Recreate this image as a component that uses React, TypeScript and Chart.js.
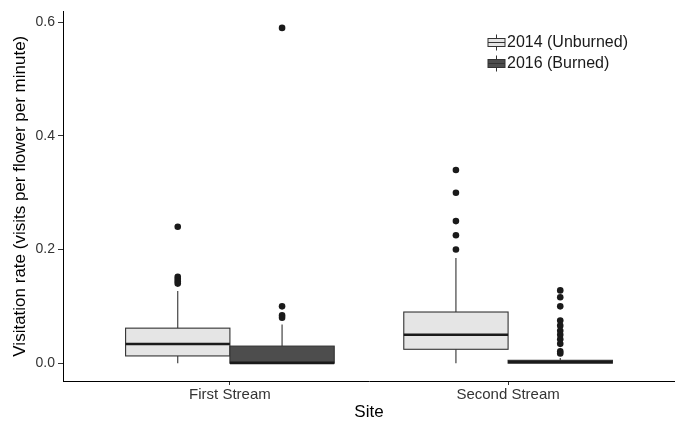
import React, { useEffect, useRef } from 'react';
import { Chart, registerables } from 'chart.js';

Chart.register(...registerables);

const categories = ['First Stream', 'Second Stream'];
const seriesNames = ['2014 (Unburned)', '2016 (Burned)'];
// per category: [lower whisker, q1, median, q3, upper whisker]
const unburnedBoxes = [
  [0, 0.0127, 0.0337, 0.0616, 0.127],
  [0, 0.0244, 0.05, 0.09, 0.185],
];
const burnedBoxes = [
  [0, 0, 0.0005, 0.03, 0.068],
  [0, 0, 0.002, 0.005, 0.009],
];
const unburnedOutliersFirst = [0.24, 0.152, 0.148, 0.144, 0.14];
const unburnedOutliersSecond = [0.34, 0.3, 0.25, 0.225, 0.2];
const burnedOutliersFirst = [0.59, 0.1, 0.084, 0.08];
const burnedOutliersSecond = [0.128, 0.116, 0.1, 0.075, 0.066, 0.057, 0.05, 0.042, 0.034, 0.021, 0.017];
const yTicks = [0, 0.2, 0.4, 0.6];

const fills = ['#e5e5e5', '#4d4d4d'];
const DODGE = 0.1875;
const HALF = 0.1875;
const FONT = "'Liberation Sans', Arial, sans-serif";

const boxPlugin = {
  id: 'boxes',
  beforeDatasetsDraw(chart: any) {
    const { ctx, scales } = chart;
    const xs = scales.x;
    const ys = scales.y;
    const groups = [unburnedBoxes, burnedBoxes];
    groups.forEach((boxes, s) => {
      boxes.forEach((b, i) => {
        const c = i + 1 + (s === 0 ? -DODGE : DODGE);
        const xl = xs.getPixelForValue(c - HALF);
        const xr = xs.getPixelForValue(c + HALF);
        const xc = xs.getPixelForValue(c);
        const [lo, q1, med, q3, hi] = b.map((v: number) => ys.getPixelForValue(v));
        ctx.save();
        ctx.strokeStyle = '#333333';
        ctx.lineWidth = 1.1;
        ctx.beginPath();
        ctx.moveTo(xc, q3);
        ctx.lineTo(xc, hi);
        ctx.moveTo(xc, q1);
        ctx.lineTo(xc, lo);
        ctx.stroke();
        ctx.fillStyle = fills[s];
        ctx.fillRect(xl, q3, xr - xl, q1 - q3);
        ctx.strokeRect(xl, q3, xr - xl, q1 - q3);
        ctx.strokeStyle = '#1a1a1a';
        ctx.lineWidth = 2.6;
        ctx.beginPath();
        ctx.moveTo(xl, med);
        ctx.lineTo(xr, med);
        ctx.stroke();
        ctx.restore();
      });
    });
  },
  afterDraw(chart: any) {
    const { ctx } = chart;
    const gx = 488;
    const rows = [42.5, 63.5];
    rows.forEach((cy, s) => {
      ctx.save();
      ctx.strokeStyle = '#333333';
      ctx.lineWidth = 1;
      ctx.beginPath();
      ctx.moveTo(gx + 8.5, cy - 8);
      ctx.lineTo(gx + 8.5, cy - 4);
      ctx.moveTo(gx + 8.5, cy + 4);
      ctx.lineTo(gx + 8.5, cy + 8);
      ctx.stroke();
      ctx.fillStyle = fills[s];
      ctx.fillRect(gx, cy - 4, 17, 8);
      ctx.strokeRect(gx, cy - 4, 17, 8);
      ctx.beginPath();
      ctx.moveTo(gx, cy);
      ctx.lineTo(gx + 17, cy);
      ctx.stroke();
      ctx.fillStyle = '#1a1a1a';
      ctx.font = `16px ${FONT}`;
      ctx.textBaseline = 'middle';
      ctx.textAlign = 'left';
      ctx.fillText(seriesNames[s], gx + 19, cy + 0.5);
      ctx.restore();
    });
  },
};

function pts(values: number[], x: number) {
  return values.map((v) => ({ x, y: v }));
}

export default function App() {
  const ref = useRef<HTMLCanvasElement>(null);
  useEffect(() => {
    if (!ref.current) return;
    const pointStyle = {
      pointRadius: 3.3,
      pointHoverRadius: 3.3,
      backgroundColor: '#1a1a1a',
      borderWidth: 0,
    };
    const chart = new Chart(ref.current, {
      type: 'scatter',
      data: {
        datasets: [
          {
            label: seriesNames[0],
            data: [...pts(unburnedOutliersFirst, 1 - DODGE), ...pts(unburnedOutliersSecond, 2 - DODGE)],
            ...pointStyle,
          },
          {
            label: seriesNames[1],
            data: [...pts(burnedOutliersFirst, 1 + DODGE), ...pts(burnedOutliersSecond, 2 + DODGE)],
            ...pointStyle,
          },
        ],
      },
      options: {
        animation: false,
        responsive: true,
        maintainAspectRatio: false,
        layout: { autoPadding: false, padding: { top: 8, right: 0, left: 0, bottom: 0 } },
        plugins: { legend: { display: false }, tooltip: { enabled: false } },
        scales: {
          x: {
            type: 'linear',
            min: 0.4,
            max: 2.6,
            afterBuildTicks: (s: any) => {
              s.ticks = [{ value: 1 }, { value: 2 }];
            },
            afterFit: (s: any) => {
              s.height = 42;
            },
            ticks: {
              callback: (v: any) => categories[Math.round(v) - 1],
              font: { family: FONT, size: 15 },
              color: '#333333',
              padding: 1,
              maxRotation: 0,
            },
            grid: { drawOnChartArea: false, tickLength: 4, color: '#333333' },
            border: { display: true, color: '#000000', width: 1 },
            title: {
              display: true,
              text: 'Site',
              font: { family: FONT, size: 17 },
              color: '#000000',
              padding: { top: 0, bottom: 0 },
            },
          },
          y: {
            type: 'linear',
            min: -0.0314,
            max: 0.619,
            afterBuildTicks: (s: any) => {
              s.ticks = yTicks.map((v) => ({ value: v }));
            },
            afterFit: (s: any) => {
              s.width = 63;
            },
            ticks: {
              callback: (v: any) => Number(v).toFixed(1),
              font: { family: FONT, size: 14 },
              color: '#333333',
              padding: 3,
            },
            grid: { drawOnChartArea: false, tickLength: 5, color: '#333333' },
            border: { display: true, color: '#000000', width: 1 },
            title: {
              display: true,
              text: 'Visitation rate (visits per flower per minute)',
              font: { family: FONT, size: 17 },
              color: '#000000',
              padding: { top: 10, bottom: 0 },
            },
          },
        },
      },
      plugins: [boxPlugin],
    } as any);
    return () => chart.destroy();
  }, []);
  return (
    <div style={{ position: 'fixed', left: 0, top: 0, width: 675, height: 423, background: '#fff' }}>
      <canvas ref={ref} />
    </div>
  );
}
